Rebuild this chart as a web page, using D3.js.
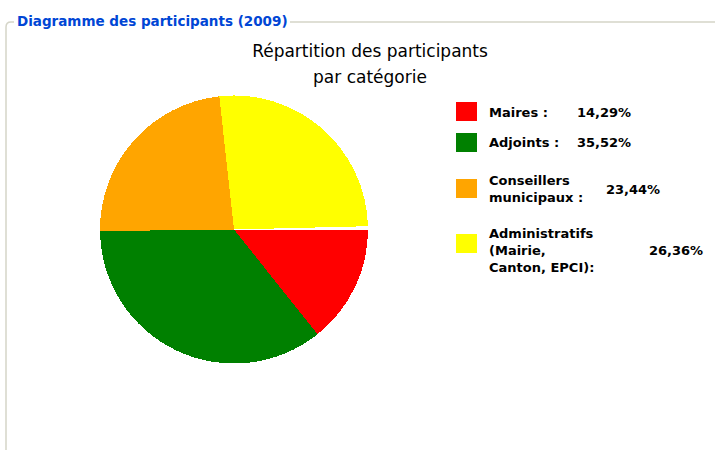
<!DOCTYPE html>
<html>
<head>
<meta charset="utf-8">
<script src="https://cdn.jsdelivr.net/npm/d3@7"></script>
<style>
  body { margin: 0; background: #fff; }
  svg { display: block; }
  .frame-title { font-family: "DejaVu Sans", sans-serif; font-weight: bold; font-size: 13.5px; fill: #0046d5; }
  .chart-title { font-family: "DejaVu Sans", sans-serif; font-size: 17px; fill: #000; }
  .legend text { font-family: "DejaVu Sans", sans-serif; font-weight: bold; font-size: 13px; fill: #000; }
</style>
</head>
<body>
<svg id="chart" width="715" height="450"></svg>
<script>
// data
const categories = ["Maires", "Adjoints", "Conseillers municipaux", "Administratifs"];
const legendLabels = [
    ["Maires :"],
    ["Adjoints :"],
    ["Conseillers", "municipaux :"],
    ["Administratifs", "(Mairie,", "Canton, EPCI):"]
];
const percents = [14.29, 35.52, 23.44, 26.36];
const sliceColours = ["#ff0000", "#008000", "#ffa500", "#ffff00"];
const frameTitle = "Diagramme des participants (2009)";
const chartTitle = ["Répartition des participants", "par catégorie"];

const width = 715, height = 450;
const svg = d3.select("#chart");

// fieldset-like frame
const frameTop = 22, frameLeft = 6, gapStart = 14, gapEnd = 290;
svg.append("path")
    .attr("d", `M${frameLeft},${height} L${frameLeft},${frameTop + 5} Q${frameLeft},${frameTop} ${frameLeft + 5},${frameTop} L${gapStart},${frameTop}
                M${gapEnd},${frameTop} L${width},${frameTop}`)
    .attr("fill", "none")
    .attr("stroke", "#d5d5c8")
    .attr("stroke-width", 1.5);

svg.append("text")
    .attr("class", "frame-title")
    .attr("x", 17)
    .attr("y", 26)
    .text(frameTitle);

// chart title
svg.append("text")
    .attr("class", "chart-title")
    .attr("text-anchor", "middle")
    .attr("x", 370)
    .attr("y", 57)
    .selectAll("tspan")
    .data(chartTitle)
    .join("tspan")
    .attr("x", 370)
    .attr("dy", (d, i) => i === 0 ? 0 : 26)
    .text(d => d);

// pie - percentages don't add to 100, so leave the remainder empty
const colour = d3.scaleOrdinal().domain(categories).range(sliceColours);
const total = d3.sum(percents);
const start = Math.PI / 2;
const pie = d3.pie()
    .sort(null)
    .value(d => d.value)
    .startAngle(start)
    .endAngle(start + 2 * Math.PI * total / 100);

const arc = d3.arc().innerRadius(0).outerRadius(134);

const pieData = categories.map((c, i) => ({ category: c, value: percents[i] }));

svg.append("g")
    .attr("transform", "translate(234,229.5)")
    .selectAll("path")
    .data(pie(pieData))
    .join("path")
    .attr("d", arc)
    .attr("fill", d => colour(d.data.category))
    .attr("shape-rendering", "crispEdges");

// legend
const swatchX = 456, labelX = 489;
const swatchY = [102, 133, 179, 234];
const textY = [117, 147, 185, 238];
const valueX = [577, 577, 606, 649];
const lineH = 17;
const fmt = v => d3.format(".2f")(v).replace(".", ",") + "%";

const legend = svg.append("g").attr("class", "legend");
const rows = legend.selectAll("g")
    .data(pieData)
    .join("g");

rows.append("rect")
    .attr("x", swatchX)
    .attr("y", (d, i) => swatchY[i])
    .attr("width", 21)
    .attr("height", 19)
    .attr("fill", d => colour(d.category));

rows.append("text")
    .attr("x", labelX)
    .attr("y", (d, i) => textY[i])
    .selectAll("tspan")
    .data((d, i) => legendLabels[i])
    .join("tspan")
    .attr("x", labelX)
    .attr("dy", (d, j) => j === 0 ? 0 : lineH)
    .text(d => d);

rows.append("text")
    .attr("x", (d, i) => valueX[i])
    .attr("y", (d, i) => textY[i] + (legendLabels[i].length - 1) * lineH / 2)
    .text(d => fmt(d.value));
</script>
</body>
</html>
